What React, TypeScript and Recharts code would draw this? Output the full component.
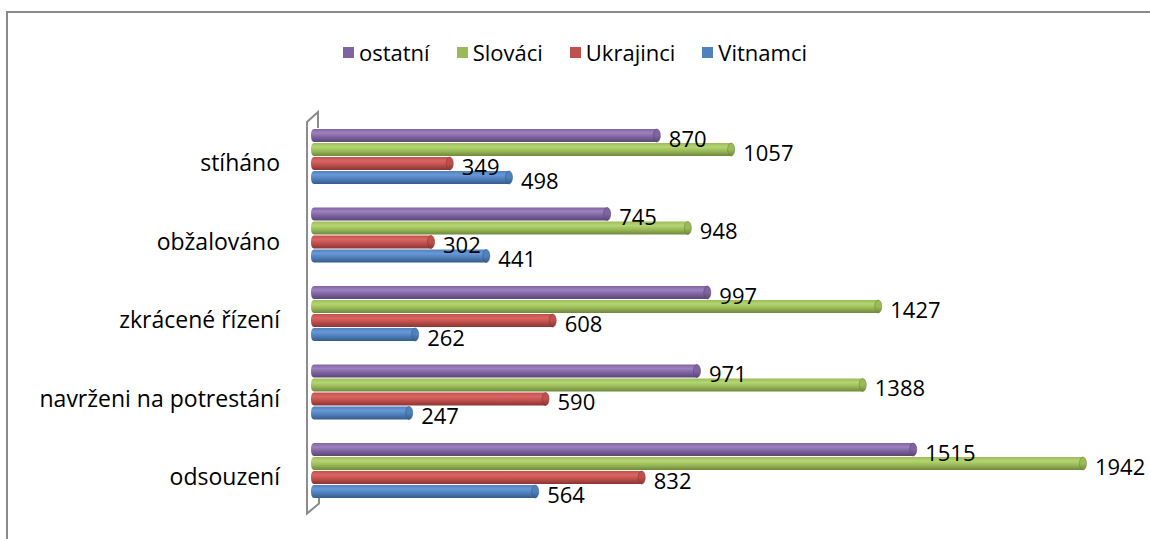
import React from 'react';
import { BarChart, Bar, XAxis, YAxis, LabelList } from 'recharts';

const categories = ['stíháno', 'obžalováno', 'zkrácené řízení', 'navrženi na potrestání', 'odsouzení'];
const ostatni = [870, 745, 997, 971, 1515];
const slovaci = [1057, 948, 1427, 1388, 1942];
const ukrajinci = [349, 302, 608, 590, 832];
const vitnamci = [498, 441, 262, 247, 564];

const seriesNames = ['ostatní', 'Slováci', 'Ukrajinci', 'Vitnamci'];
const seriesKeys = ['ostatni', 'slovaci', 'ukrajinci', 'vitnamci'];
const seriesColors = [
  { base: '#8064A2', light: '#9c82be', dark: '#5a4676' },
  { base: '#9BBB59', light: '#b4d672', dark: '#6f883c' },
  { base: '#C0504D', light: '#da6663', dark: '#8a3532' },
  { base: '#4F81BD', light: '#6898d6', dark: '#365c8a' },
];

const data = categories.map((name, i) => ({
  name,
  ostatni: ostatni[i],
  slovaci: slovaci[i],
  ukrajinci: ukrajinci[i],
  vitnamci: vitnamci[i],
}));

const W = 1150;
const H = 539;
const PLOT_LEFT = 311;
const PLOT_TOP = 117;
const PLOT_BOTTOM = 509.5;
const PLOT_RIGHT = 1106;
const FONT = '"Open Sans", sans-serif';
const FONT_SIZE = 22;
const CAT_FONT_SIZE = 23;

function makeShape(idx: number) {
  const c = seriesColors[idx];
  return (props: any) => {
    const x = Number(props.x);
    const y = Number(props.y);
    const width = Number(props.width);
    const height = Number(props.height);
    if (!width || width <= 0) return null;
    const r = height / 2;
    const d = `M${x + 3},${y} L${x + width},${y} L${x + width},${y + height} L${x + 3},${y + height} Q${x},${y + height} ${x},${y + r} Q${x},${y} ${x + 3},${y} Z`;
    return (
      <g>
        <path d={d} fill={`url(#grad${idx})`} />
        <ellipse cx={x + width} cy={y + r} rx={3.5} ry={r} fill={`url(#cap${idx})`} stroke={c.dark} strokeWidth={0.6} />
      </g>
    );
  };
}

const renderLabel = (props: any) => {
  const x = Number(props.x);
  const y = Number(props.y);
  const width = Number(props.width);
  const height = Number(props.height);
  return (
    <text
      x={x + width + 12}
      y={y + height / 2 + 2}
      fontSize={FONT_SIZE}
      fontFamily={FONT}
      fill="#000"
      dominantBaseline="central"
      textAnchor="start"
    >
      {props.value}
    </text>
  );
};

export default function App() {
  const wallColor = '#8c8c8c';
  const lx = PLOT_LEFT - 4;
  const rx = PLOT_LEFT + 7;
  const wall = `M${rx},${PLOT_TOP + 11} L${rx},${PLOT_TOP - 5} L${lx},${PLOT_TOP + 5} L${lx},${PLOT_BOTTOM + 4} L${rx + 1},${PLOT_BOTTOM - 6} L${rx + 1},${PLOT_BOTTOM - 14}`;
  return (
    <div style={{ position: 'absolute', left: 0, top: 0, width: W, height: H, background: '#fff', overflow: 'hidden' }}>
      <div
        style={{
          position: 'absolute',
          left: 6,
          top: 11,
          width: W,
          height: H,
          borderTop: '2px solid #8a8a8a',
          borderLeft: '2px solid #8a8a8a',
          boxSizing: 'border-box',
        }}
      />
      <svg style={{ position: 'absolute', left: 0, top: 0 }} width={W} height={H}>
        <path d={wall} fill="none" stroke={wallColor} strokeWidth={2} strokeLinejoin="miter" />
      </svg>
      <div
        style={{
          position: 'absolute',
          left: 0,
          top: 37,
          width: W,
          height: 30,
          display: 'flex',
          justifyContent: 'center',
          alignItems: 'center',
          fontFamily: FONT,
          fontSize: FONT_SIZE,
          color: '#000',
        }}
      >
        {seriesNames.map((n, i) => (
          <div key={n} style={{ display: 'flex', alignItems: 'center', marginLeft: i === 0 ? 0 : 27 }}>
            <div style={{ width: 11, height: 11, background: seriesColors[i].base, marginRight: 5 }} />
            <span>{n}</span>
          </div>
        ))}
      </div>
      <div style={{ position: 'absolute', left: 0, top: 0 }}>
        <BarChart
          width={W}
          height={H}
          data={data}
          layout="vertical"
          margin={{ top: PLOT_TOP, right: W - PLOT_RIGHT, bottom: H - PLOT_BOTTOM, left: 0 }}
          barSize={13}
          barGap={1}
        >
          <defs>
            {seriesColors.map((c, i) => (
              <linearGradient key={`g${i}`} id={`grad${i}`} x1="0" y1="0" x2="0" y2="1">
                <stop offset="0%" stopColor={c.base} />
                <stop offset="30%" stopColor={c.light} />
                <stop offset="60%" stopColor={c.base} />
                <stop offset="100%" stopColor={c.dark} />
              </linearGradient>
            ))}
            {seriesColors.map((c, i) => (
              <linearGradient key={`c${i}`} id={`cap${i}`} x1="0" y1="0" x2="0" y2="1">
                <stop offset="0%" stopColor={c.base} />
                <stop offset="50%" stopColor={c.base} />
                <stop offset="100%" stopColor={c.dark} />
              </linearGradient>
            ))}
          </defs>
          <XAxis type="number" domain={[0, 2000]} hide />
          <YAxis
            type="category"
            dataKey="name"
            width={PLOT_LEFT}
            tickLine={false}
            axisLine={false}
            tickSize={6}
            tickMargin={25}
            interval={0}
            tick={{ fontSize: CAT_FONT_SIZE, fill: '#000', fontFamily: FONT, dy: 7 }}
          />
          {seriesKeys.map((k, i) => (
            <Bar key={k} dataKey={k} name={seriesNames[i]} isAnimationActive={false} shape={makeShape(i)}>
              <LabelList dataKey={k} content={renderLabel} />
            </Bar>
          ))}
        </BarChart>
      </div>
    </div>
  );
}
